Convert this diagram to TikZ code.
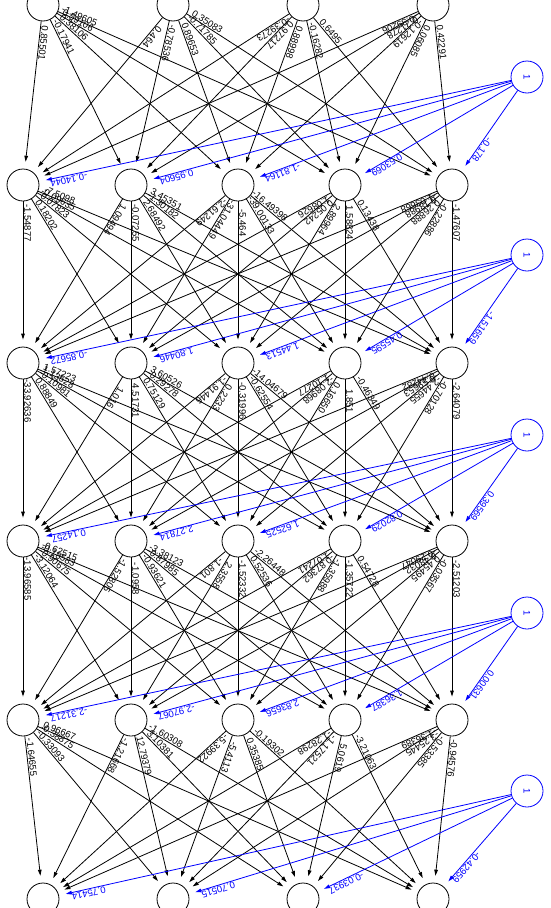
\documentclass[tikz,border=0pt]{standalone}
\usepackage{fontspec}
\setmainfont{Liberation Sans}
\usetikzlibrary{arrows.meta,calc}
\newcommand\wlab[3]{%
  \draw[edge] (#1) -- (#2);
  \path let \p1=($(#2)-(#1)$), \n1={atan2(\y1,\x1)} in ($(#1)!38pt!(#2)$) node[wt,rotate=\n1] {#3};}
\newcommand\blab[3]{%
  \draw[bedge] (#1) -- (#2);
  \path let \p1=($(#2)-(#1)$), \n1={atan2(\y1,\x1)} in ($(#2)!46pt!(#1)$) node[bwt,rotate=\n1] {#3};}
\newcommand\wrow[3]{\foreach \l [count=\c] in {#3} {\wlab{#1}{#2\c}{\l}}}
\newcommand\brow[3]{\foreach \l [count=\c] in {#3} {\blab{#1}{#2\c}{\l}}}
\begin{document}
\begin{tikzpicture}[x=1pt,y=-1pt,
  neuron/.style={circle,draw,line width=0.8pt,minimum size=32pt,inner sep=0pt,fill=white},
  biasnode/.style={neuron,draw=blue,text=blue,font=\fontsize{9.5}{10}\selectfont},
  edge/.style={line width=0.8pt,-{Triangle[length=6pt,width=3.6pt]},shorten >=7pt},
  bedge/.style={edge,draw=blue},
  wt/.style={font=\fontsize{9.5}{10}\selectfont,inner sep=1pt,anchor=south},
  bwt/.style={wt,text=blue}]
\useasboundingbox (0,0) rectangle (550,908);
\clip (0,0) rectangle (550,908);
% input and output nodes
\foreach \x [count=\c] in {43,173,303,433} {
  \node[neuron] (i\c) at (\x,5) {};
  \node[neuron] (o\c) at (\x,899) {};
}
% hidden nodes
\foreach \y [count=\k] in {185,363,541,720} {
  \foreach \x [count=\c] in {23,131,238,345,452} {
    \node[neuron] (h\k\c) at (\x,\y) {};
  }
}
% bias nodes
\foreach \y [count=\k] in {77,255,435,613,791} {
  \node[biasnode,rotate=-90] (b\k) at (527,\y) {1};
}
% layer 0 -> 1
\wrow{i1}{h1}{0.85501,-0.17941,0.38106,0.59106,-1.49605}
\wrow{i2}{h1}{0.464,-0.78536,0.89653,-0.71785,0.35083}
\wrow{i3}{h1}{-0.39273,0.97217,0.88998,-0.16282,0.6495}
\wrow{i4}{h1}{-0.39206,0.21278,-0.12619,0.06085,0.42291}
\brow{b1}{h1}{-0.14044,0.95604,-1.81164,0.53069,-0.178}
% layer 1 -> 2
\wrow{h11}{h2}{-1.54877,0.18202,0.07823,-0.09635,-7.5098}
\wrow{h12}{h2}{1.09494,-0.07255,2.68492,-1.30182,3.45351}
\wrow{h13}{h2}{-2.61249,-31.04449,-5.464,-39.00133,-16.49398}
\wrow{h14}{h2}{1.08626,0.05242,2.89964,1.58824,0.13438}
\wrow{h15}{h2}{-1.03668,0.18988,0.26888,-0.22886,-1.47607}
\brow{b2}{h2}{-0.85672,1.80446,1.44513,0.45595,-1.51659}
% layer 2 -> 3
\wrow{h21}{h3}{-33.92636,0.88849,-0.10981,1.13528,1.57223}
\wrow{h22}{h3}{1.016,4.51731,0.75129,-0.29278,3.60526}
\wrow{h23}{h3}{-1.91446,0.2233,-0.31996,-0.62554,-14.04679}
\wrow{h24}{h3}{1.10277,-2.08968,0.16650,1.851,-0.46349}
\wrow{h25}{h3}{0.44282,-0.59653,-2.44655,-0.70128,-2.64079}
\brow{b3}{h3}{0.14257,2.27814,1.62525,0.82029,0.39569}
% layer 3 -> 4
\wrow{h31}{h4}{-13.96585,-3.12064,-0.90675,-0.18583,-0.62515}
\wrow{h32}{h4}{-1.52805,-1.0958,-0.93621,-0.87985,-3.38123}
\wrow{h33}{h4}{-1.801,2.3558,-1.52332,0.52536,-2.26448}
\wrow{h34}{h4}{1.07241,-0.87362,-1.35988,-1.35722,0.54728}
\wrow{h35}{h4}{-0.29047,0.48032,0.45495,-0.03567,-2.51203}
\brow{b4}{h4}{-2.31217,-2.97067,2.83656,1.36387,0.00631}
% layer 4 -> output
\wrow{h41}{o}{-1.64655,-0.33093,-0.38875,0.96667}
\wrow{h42}{o}{-1.21668,12.79379,3.10381,-1.60308}
\wrow{h43}{o}{-5.39922,-5.4113,0.35385,-0.19302}
\wrow{h44}{o}{-1.28298,-1.17521,5.0619,-3.21063}
\wrow{h45}{o}{-1.36389,-3.25445,-0.53385,-0.94576}
\brow{b5}{o}{0.75414,0.70515,-0.03937,-0.42959}
\end{tikzpicture}
\end{document}
